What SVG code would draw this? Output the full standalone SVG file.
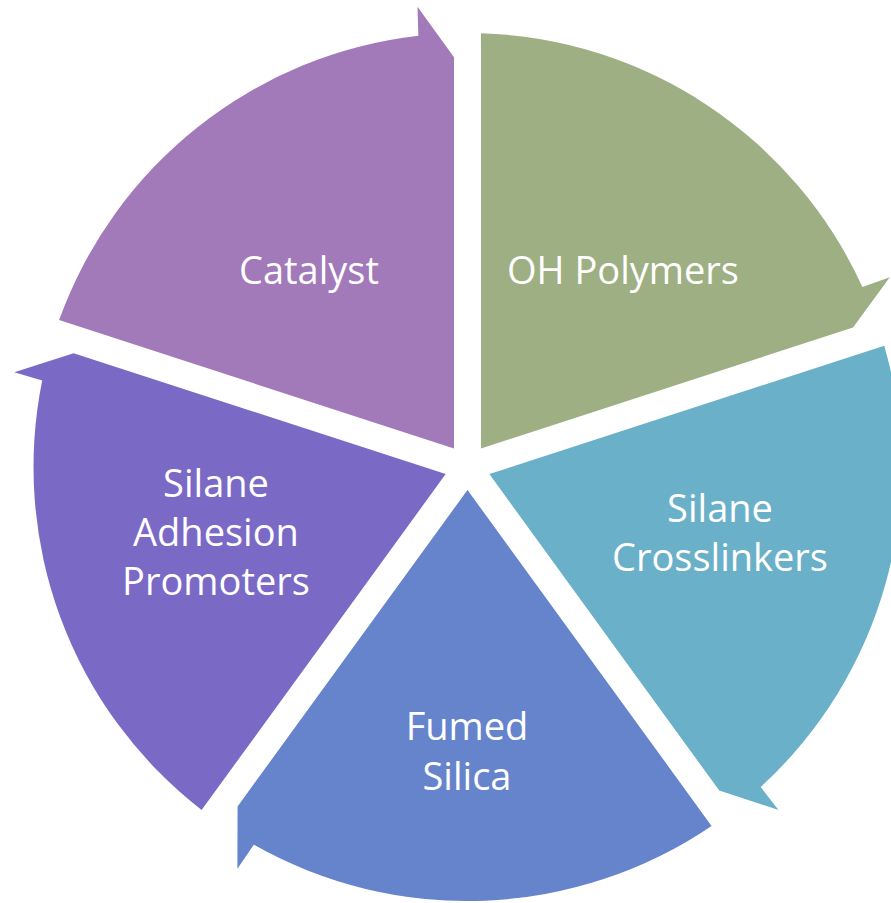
<svg xmlns="http://www.w3.org/2000/svg" xmlns:xlink="http://www.w3.org/1999/xlink" width="891" height="903" viewBox="0 0 891 903">
  <style>
    .lbl { font-family: "Open Sans", "Noto Sans", "Liberation Sans", sans-serif; font-size: 38px; fill: #ffffff; text-anchor: middle; }
  </style>
  <defs>
    <path id="seg" d="M13.5,-18.58 L13.5,-433.79 A434,434 0 0 1 394.92,-179.98 L422.31,-189.79 L385.54,-139.46 Z"/>
  </defs>
  <rect x="0" y="0" width="891" height="903" fill="#ffffff"/>
  <g id="oh-polymers">
    <use xlink:href="#seg" href="#seg" transform="translate(467.5,467) rotate(0)" fill="#9EAF83"/>
    <text class="lbl" x="623" y="284">OH Polymers</text>
  </g>
  <g id="silane-crosslinkers">
    <use xlink:href="#seg" href="#seg" transform="translate(467.5,467) rotate(72)" fill="#6AB0C8"/>
    <text class="lbl" x="720" y="522">Silane</text>
    <text class="lbl" x="720" y="571">Crosslinkers</text>
  </g>
  <g id="fumed-silica">
    <use xlink:href="#seg" href="#seg" transform="translate(467.5,467) rotate(144)" fill="#6584CC"/>
    <text class="lbl" x="467" y="740">Fumed</text>
    <text class="lbl" x="467" y="790">Silica</text>
  </g>
  <g id="silane-adhesion-promoters">
    <use xlink:href="#seg" href="#seg" transform="translate(467.5,467) rotate(216)" fill="#7B69C6"/>
    <text class="lbl" x="216" y="497">Silane</text>
    <text class="lbl" x="216" y="546">Adhesion</text>
    <text class="lbl" x="216" y="595">Promoters</text>
  </g>
  <g id="catalyst">
    <use xlink:href="#seg" href="#seg" transform="translate(467.5,467) rotate(288)" fill="#A279B9"/>
    <text class="lbl" x="309" y="284">Catalyst</text>
  </g>
</svg>
